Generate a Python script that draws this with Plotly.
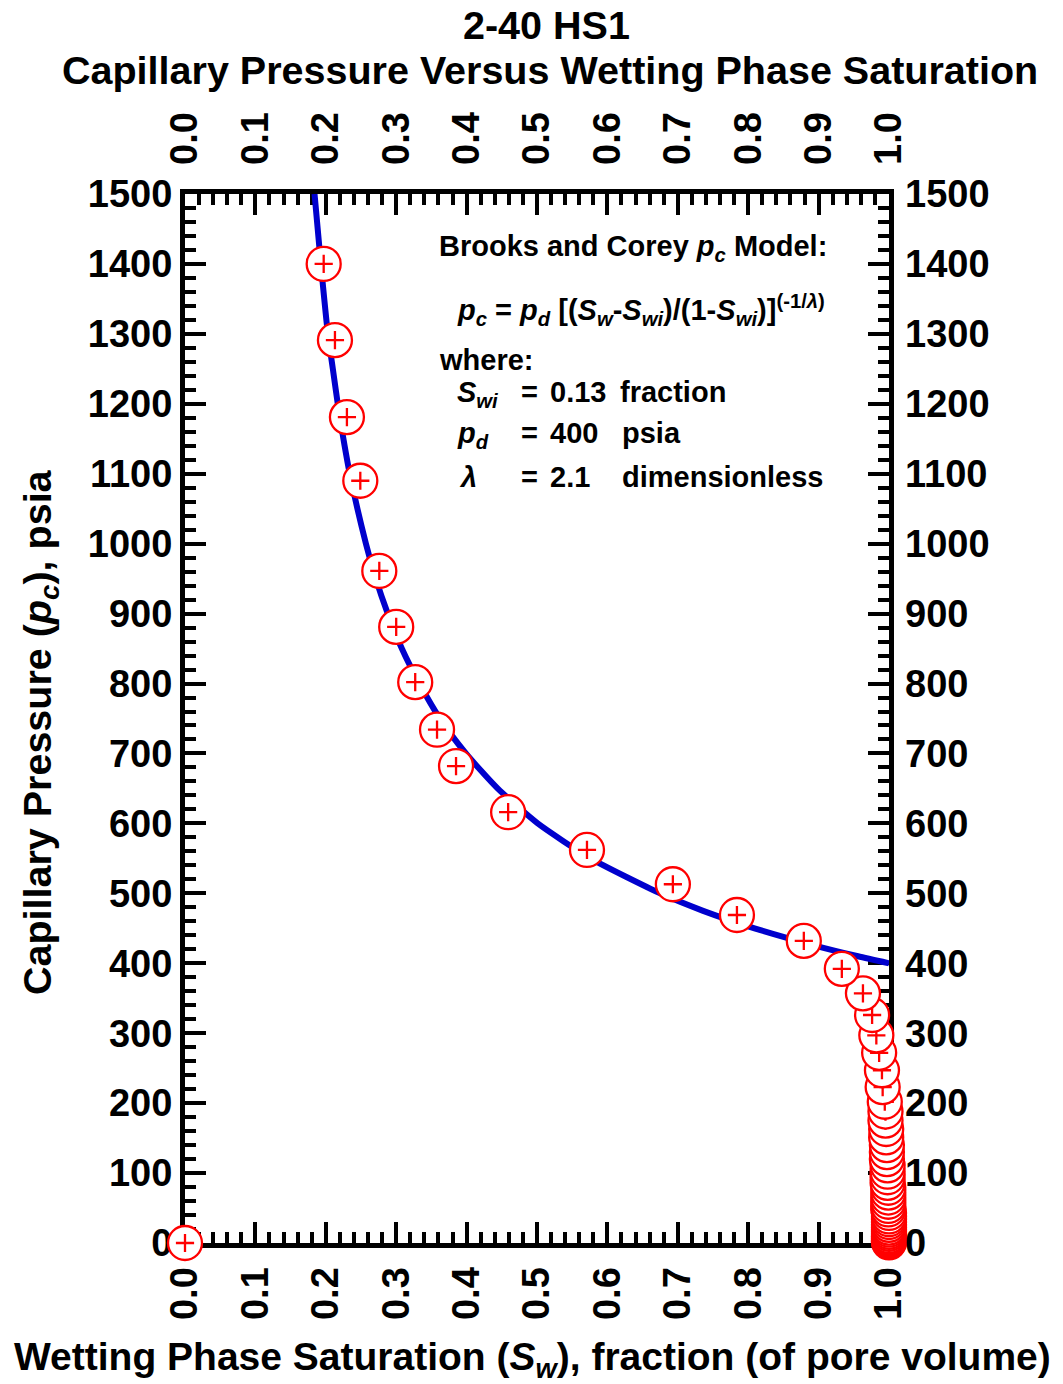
import plotly.graph_objects as go

# ---- Data ----
# Brooks & Corey model curve (Sw fraction, pc psia)
curve_pc = [1500, 1400, 1300, 1250, 1200, 1150, 1100, 1000, 950, 900, 850, 800, 750,
            700, 650, 600, 550, 500, 475, 450, 425, 410, 400]
curve_sw = [0.184, 0.193, 0.203, 0.210, 0.217, 0.225, 0.234, 0.257, 0.271, 0.288, 0.308,
            0.333, 0.362, 0.399, 0.444, 0.501, 0.576, 0.675, 0.736, 0.809, 0.896, 0.956, 1.000]

# Measured points
data_pc = [1400, 1291, 1181, 1090, 961, 881, 802, 734, 682, 616, 562, 513, 469, 432,
           392, 357, 326, 297, 272, 247, 223, 202, 188, 175, 163, 151, 140, 130, 120,
           111, 102, 94, 86, 79, 72, 65, 59, 53, 48, 43, 38, 34, 30, 26, 22, 19, 16,
           13, 10, 8, 6, 4, 2, 1, 0]
data_sw = [0.197, 0.213, 0.230, 0.249, 0.276, 0.300, 0.327, 0.358, 0.385, 0.459, 0.571,
           0.693, 0.784, 0.879, 0.933, 0.963, 0.976, 0.982, 0.986, 0.990, 0.991, 0.994,
           0.995, 0.995, 0.996, 0.996, 0.997, 0.997, 0.997, 0.998, 0.998, 0.998, 0.998,
           0.999, 0.999, 0.999, 0.999, 0.999, 0.999, 1.000, 1.000, 1.000, 1.000, 1.000,
           1.000, 1.000, 1.000, 1.000, 1.000, 1.000, 1.000, 1.000, 1.000, 1.000, 0.000]

x_ticks = [0.0, 0.1, 0.2, 0.3, 0.4, 0.5, 0.6, 0.7, 0.8, 0.9, 1.0]
y_ticks = [0, 100, 200, 300, 400, 500, 600, 700, 800, 900, 1000, 1100, 1200, 1300, 1400, 1500]

FONT = "Liberation Sans, Arial, sans-serif"
BLUE = "#0000CD"
RED = "#FF0000"

fig = go.Figure()

fig.add_trace(go.Scatter(x=curve_sw, y=curve_pc, mode="lines",
                         line=dict(color=BLUE, width=6, shape="spline", smoothing=0.6),
                         hoverinfo="skip", showlegend=False, cliponaxis=False))

# draw points from low pc to high pc so upper circles sit on top
order = sorted(range(len(data_pc)), key=lambda i: data_pc[i])
for i in order:
    fig.add_trace(go.Scatter(x=[data_sw[i]], y=[data_pc[i]], mode="markers",
                             marker=dict(symbol="circle", size=34, color="white",
                                         line=dict(color=RED, width=2.3)),
                             showlegend=False, cliponaxis=False, hoverinfo="skip"))
    fig.add_trace(go.Scatter(x=[data_sw[i]], y=[data_pc[i]], mode="markers",
                             marker=dict(symbol="cross-thin-open", size=13, color=RED,
                                         line=dict(color=RED, width=2.3)),
                             showlegend=False, cliponaxis=False, hoverinfo="skip"))

# invisible trace to anchor secondary axes
fig.add_trace(go.Scatter(x=[0, 1], y=[0, 1500], mode="markers", xaxis="x2", yaxis="y2",
                         marker=dict(opacity=0), hoverinfo="skip", showlegend=False))

tickfont = dict(family=FONT, size=38, color="black", weight="bold")
common_x = dict(range=[0, 1], tickvals=x_ticks, ticktext=[f"{v:.1f}" for v in x_ticks],
                tickangle=-90, tickfont=tickfont, showgrid=False, zeroline=False)
common_y = dict(range=[0, 1500], tickvals=y_ticks, ticktext=[str(v) for v in y_ticks],
                tickfont=tickfont, showgrid=False, zeroline=False)

fig.update_layout(
    width=1063, height=1384,
    margin=dict(l=185, r=174, t=194, b=141),
    paper_bgcolor="white", plot_bgcolor="white",
    showlegend=False,
    xaxis=dict(**common_x, showline=True, linewidth=5, linecolor="black", mirror="allticks",
               ticks="inside", ticklen=21, tickwidth=4, tickcolor="black",
               ticklabelstandoff=4, layer="below traces",
               minor=dict(dtick=0.02, ticks="inside", ticklen=11, tickwidth=4,
                          tickcolor="black", showgrid=False)),
    xaxis2=dict(**common_x, overlaying="x", side="top", anchor="y", showline=False,
                ticks="", ticklabelstandoff=28),
    yaxis=dict(**common_y, showline=True, linewidth=5, linecolor="black", mirror="allticks",
               ticks="inside", ticklen=21, tickwidth=4, tickcolor="black",
               ticklabelstandoff=0, layer="below traces",
               minor=dict(dtick=20, ticks="inside", ticklen=11, tickwidth=4,
                          tickcolor="black", showgrid=False)),
    yaxis2=dict(**common_y, overlaying="y", side="right", anchor="x", showline=False,
                ticks="", ticklabelstandoff=15),
)

title_font = dict(family=FONT, size=39.5, color="black", weight="bold")
xtitle_font = dict(family=FONT, size=39, color="black", weight="bold")
ann_font = dict(family=FONT, size=29, color="black", weight="bold")

annotations = [
    dict(text="2-40 HS1", x=0.514, y=1.161, xref="paper", yref="paper",
         xanchor="center", yanchor="middle", showarrow=False, font=title_font),
    dict(text="Capillary Pressure Versus Wetting Phase Saturation", x=0.518, y=1.118,
         xref="paper", yref="paper", xanchor="center", yanchor="middle",
         showarrow=False, font=title_font),
    dict(text="Capillary Pressure (<i>p<sub>c</sub></i>), psia", x=-0.206, y=0.487,
         xref="paper", yref="paper", xanchor="center", yanchor="middle", textangle=-90,
         showarrow=False, font=title_font),
    dict(text="Wetting Phase Saturation (<i>S<sub>w</sub></i>), fraction (of pore volume)",
         x=0.493, y=-0.111, xref="paper", yref="paper", xanchor="center", yanchor="middle",
         showarrow=False, font=xtitle_font),
    # model box
    dict(text="Brooks and Corey <i>p<sub>c</sub></i> Model:", x=0.358, y=1423),
    dict(text="<i>p<sub>c</sub></i> = <i>p<sub>d</sub></i> [(<i>S<sub>w</sub></i>-<i>S<sub>wi</sub></i>)/(1-<i>S<sub>wi</sub></i>)]<sup>(-1/<i>λ</i>)</sup>",
         x=0.3835, y=1334),
    dict(text="where:", x=0.358, y=1263),
    dict(text="<i>S<sub>wi</sub></i>", x=0.3835, y=1214),
    dict(text="=", x=0.474, y=1217),
    dict(text="0.13", x=0.5156, y=1217),
    dict(text="fraction", x=0.615, y=1217),
    dict(text="<i>p<sub>d</sub></i>", x=0.3835, y=1155),
    dict(text="=", x=0.474, y=1158),
    dict(text="400", x=0.5156, y=1158),
    dict(text="psia", x=0.618, y=1158),
    dict(text="<i>λ</i>", x=0.387, y=1095),
    dict(text="=", x=0.474, y=1095),
    dict(text="2.1", x=0.5156, y=1095),
    dict(text="dimensionless", x=0.618, y=1095),
]
for a in annotations[4:]:
    a.update(xref="x", yref="y", xanchor="left", yanchor="middle", showarrow=False,
             font=ann_font)
fig.update_layout(annotations=annotations)

fig.write_html("out.html")
